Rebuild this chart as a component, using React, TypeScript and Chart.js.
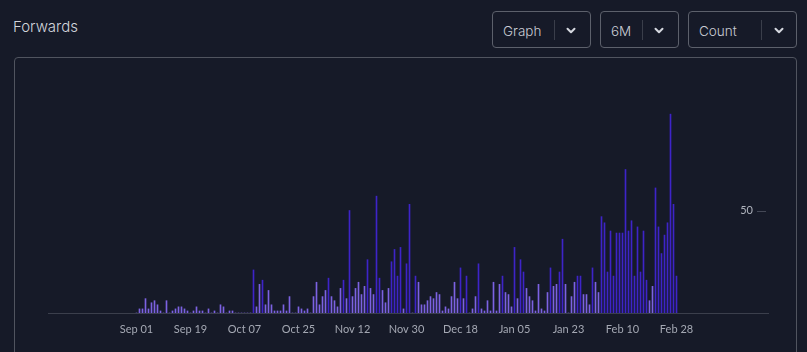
import React, { useEffect, useRef } from 'react';
import { Chart, registerables } from 'chart.js';

Chart.register(...registerables);

const MONTHS = ['Jan', 'Feb', 'Mar', 'Apr', 'May', 'Jun', 'Jul', 'Aug', 'Sep', 'Oct', 'Nov', 'Dec'];
const AXIS_START = { year: 2024, month: 7, day: 3 }; // Aug 03
const AXIS_DAYS = 240;
const SERIES_START_INDEX = 29; // Sep 01

const TICK_LABELS = ['Sep 01', 'Sep 19', 'Oct 07', 'Oct 25', 'Nov 12', 'Nov 30', 'Dec 18', 'Jan 05', 'Jan 23', 'Feb 10', 'Feb 28'];
const Y_TICKS = [50];

// daily forwards, Sep 01 .. Feb 28
const FORWARDS = [
  0, 2, 2, 7, 2, 5, 6, 4, 1, 0,
  6, 0, 1, 2, 3, 3, 2, 1, 0, 1,
  3, 1, 1, 0, 2, 0, 1, 0, 4, 3,
  0, 1, 1, 0, 0, 0, 0, 0, 0, 21,
  3, 14, 16, 4, 11, 4, 1, 1, 1, 4,
  1, 8, 0, 0, 3, 2, 1, 2, 0, 8,
  15, 4, 8, 11, 17, 8, 6, 3, 12, 16,
  7, 50, 8, 12, 15, 9, 13, 26, 12, 9,
  57, 17, 11, 5, 12, 25, 31, 18, 32, 2,
  24, 53, 0, 18, 15, 4, 4, 6, 8, 7,
  10, 9, 1, 3, 2, 8, 15, 7, 22, 7,
  18, 0, 2, 8, 24, 2, 1, 6, 1, 15,
  1, 14, 18, 10, 9, 3, 32, 7, 26, 20,
  12, 8, 6, 1, 14, 2, 1, 10, 22, 13,
  14, 20, 36, 14, 0, 8, 15, 18, 18, 9,
  9, 4, 22, 15, 10, 47, 44, 20, 40, 18,
  39, 39, 39, 70, 40, 45, 18, 42, 20, 40,
  16, 6, 13, 61, 42, 29, 38, 44, 97, 53,
  18,
];

const DARK_THRESHOLD = 16;
const COLOR_LIGHT = '#7c62e2';
const COLOR_DARK = '#3e24c8';
const BG = '#161a28';

function buildDayLabels(): string[] {
  const out: string[] = [];
  for (let i = 0; i < AXIS_DAYS; i++) {
    const d = new Date(Date.UTC(AXIS_START.year, AXIS_START.month, AXIS_START.day + i));
    out.push(`${MONTHS[d.getUTCMonth()]} ${String(d.getUTCDate()).padStart(2, '0')}`);
  }
  return out;
}

const DAY_LABELS = buildDayLabels();

function buildSeries(): (number | null)[] {
  const out: (number | null)[] = new Array(AXIS_DAYS).fill(null);
  FORWARDS.forEach((v, i) => {
    out[SERIES_START_INDEX + i] = v;
  });
  return out;
}

const yTickMarks = {
  id: 'yTickMarks',
  afterDraw(chart: any) {
    const y = chart.scales.y;
    const { ctx, chartArea } = chart;
    ctx.save();
    ctx.strokeStyle = '#444856';
    ctx.lineWidth = 1;
    Y_TICKS.forEach((v) => {
      const py = Math.round(y.getPixelForValue(v)) + 0.5;
      ctx.beginPath();
      ctx.moveTo(chartArea.right - 11, py);
      ctx.lineTo(chartArea.right - 2, py);
      ctx.stroke();
    });
    ctx.restore();
  },
};

function Chevron({ left }: { left: number }) {
  return (
    <svg
      style={{ position: 'absolute', left, top: 15 }}
      width={10}
      height={8}
      viewBox="0 0 10 8"
    >
      <polyline points="1.5,1.8 5,5.3 8.5,1.8" stroke="#d5d8df" strokeWidth={2} fill="none" strokeLinecap="round" strokeLinejoin="round" />
    </svg>
  );
}

function Dropdown({ left, width, label, divider, chevron }: { left: number; width: number; label: string; divider: number; chevron: number }) {
  return (
    <div
      style={{
        position: 'absolute',
        left,
        top: 11,
        width,
        height: 37,
        boxSizing: 'border-box',
        border: '1px solid #5c606b',
        borderRadius: 4,
      }}
    >
      <span
        style={{
          position: 'absolute',
          left: 10,
          top: 9,
          lineHeight: '20px',
          fontSize: 13.5,
          fontWeight: 300,
          color: '#c9ccd4',
          whiteSpace: 'nowrap',
        }}
      >
        {label}
      </span>
      <div style={{ position: 'absolute', left: divider, top: 8, width: 1, height: 20, background: '#3a3e4a' }} />
      <Chevron left={chevron} />
    </div>
  );
}

export default function App() {
  const canvasRef = useRef<HTMLCanvasElement | null>(null);

  useEffect(() => {
    if (!canvasRef.current) return;
    const data = buildSeries();
    const chart = new Chart(canvasRef.current, {
      type: 'bar',
      data: {
        labels: DAY_LABELS,
        datasets: [
          {
            label: 'Forwards',
            data,
            backgroundColor: (ctx: any) => {
              const v = ctx.raw as number | null;
              return v != null && v >= DARK_THRESHOLD ? COLOR_DARK : COLOR_LIGHT;
            },
            barThickness: 1,
            borderWidth: 0,
          },
        ],
      },
      options: {
        responsive: false,
        animation: false,
        devicePixelRatio: 1,
        layout: { padding: { left: 48, right: 39, top: 108, bottom: 11.8 } },
        plugins: {
          legend: { display: false },
          tooltip: { enabled: false },
        },
        scales: {
          x: {
            type: 'category',
            offset: true,
            border: { display: true, color: '#3b3f4c', width: 1 },
            grid: {
              drawOnChartArea: false,
              drawTicks: true,
              tickLength: 6,
              offset: false,
              color: (ctx: any) =>
                TICK_LABELS.includes(DAY_LABELS[ctx.index]) ? '#3b3f4c' : 'rgba(0,0,0,0)',
            },
            ticks: {
              autoSkip: false,
              maxRotation: 0,
              minRotation: 0,
              padding: 4,
              color: '#a4a8b3',
              font: { family: 'Lato', size: 11 },
              callback: (_v: any, i: number) =>
                TICK_LABELS.includes(DAY_LABELS[i]) ? DAY_LABELS[i] : null,
            },
          },
          y: {
            position: 'right',
            min: 0,
            max: 100,
            afterFit: (s: any) => {
              s.width = 0;
            },
            border: { display: false },
            grid: { display: false, drawTicks: false, drawOnChartArea: false },
            ticks: {
              stepSize: 50,
              mirror: true,
              padding: -15,
              color: '#b0b4be',
              font: { family: 'Lato', size: 11 },
              callback: (v: any) => (Y_TICKS.includes(Number(v)) ? String(v) : null),
            },
          },
        },
      },
      plugins: [yTickMarks],
    });
    return () => chart.destroy();
  }, []);

  return (
    <div
      style={{
        position: 'absolute',
        left: 0,
        top: 0,
        width: 807,
        height: 352,
        background: BG,
        overflow: 'hidden',
        fontFamily: 'Inter, sans-serif',
      }}
    >
      <span
        style={{
          position: 'absolute',
          left: 13,
          top: 17,
          lineHeight: '20px',
          fontSize: 15,
          fontWeight: 300,
          color: '#d2d5dc',
        }}
      >
        Forwards
      </span>
      <Dropdown left={492} width={99} label="Graph" divider={61} chevron={72.7} />
      <Dropdown left={600} width={79} label="6M" divider={41} chevron={53.3} />
      <Dropdown left={688} width={109} label="Count" divider={71.7} chevron={84.7} />
      <div
        style={{
          position: 'absolute',
          left: 14,
          top: 57,
          width: 783,
          height: 330,
          boxSizing: 'border-box',
          border: '1px solid #50545f',
          borderRadius: 4,
        }}
      />
      <canvas
        ref={canvasRef}
        width={807}
        height={352}
        style={{ position: 'absolute', left: 0, top: 0, width: 807, height: 352 }}
      />
    </div>
  );
}
